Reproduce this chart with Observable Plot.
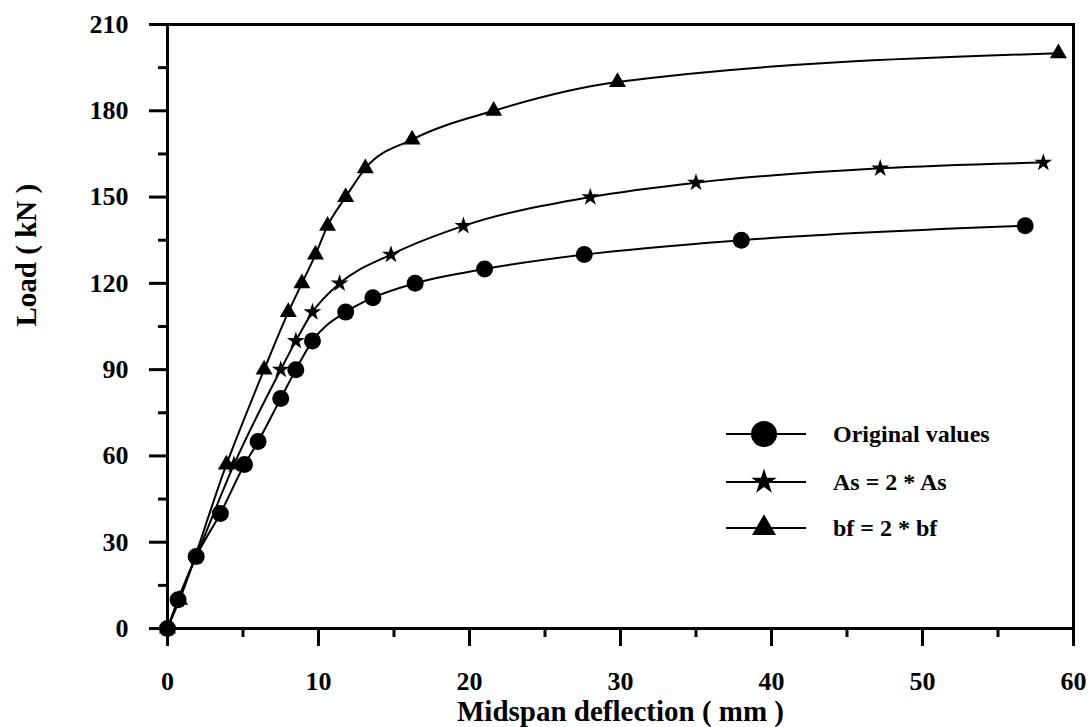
<!DOCTYPE html>
<html>
<head>
<meta charset="utf-8">
<script src="https://cdn.jsdelivr.net/npm/d3@7"></script>
<script src="https://cdn.jsdelivr.net/npm/@observablehq/plot@0.6"></script>
<style>
  html, body { margin: 0; padding: 0; background: #fff; }
  #wrap { position: relative; width: 1091px; height: 727px; }
  #legend { position: absolute; left: 0; top: 0; pointer-events: none; }
</style>
</head>
<body>
<div id="wrap"></div>
<script>
// ---- data ----
const seriesNames = ["Original values", "As = 2 * As", "bf = 2 * bf"];
const seriesSymbols = ["circle", "star", "triangle"];

const origDefl = [0, 0.7, 1.9, 3.5, 5.1, 6.0, 7.5, 8.5, 9.6, 11.8, 13.6, 16.4, 21.0, 27.6, 38.0, 56.8];
const origLoad = [0, 10, 25, 40, 57, 65, 80, 90, 100, 110, 115, 120, 125, 130, 135, 140];

const asDefl = [0, 0.7, 1.9, 4.4, 7.5, 8.5, 9.6, 11.4, 14.8, 19.6, 28.0, 35.0, 47.2, 58.0];
const asLoad = [0, 10, 25, 57, 90, 100, 110, 120, 130, 140, 150, 155, 160, 162];

const bfDefl = [0, 0.8, 3.9, 6.4, 8.0, 8.9, 9.8, 10.6, 11.8, 13.1, 16.2, 21.6, 29.8, 59.0];
const bfLoad = [0, 10, 57, 90, 110, 120, 130, 140, 150, 160, 170, 180, 190, 200];

const xMajor = [0, 10, 20, 30, 40, 50, 60];
const xMinor = [5, 15, 25, 35, 45, 55];
const yMajor = [0, 30, 60, 90, 120, 150, 180, 210];
const yMinor = [15, 45, 75, 105, 135, 165, 195];

const xLabel = "Midspan deflection ( mm )";
const yLabel = "Load ( kN )";

// ---- tables built from the arrays ----
const toRows = (xs, ys) => xs.map((x, i) => ({x, y: ys[i]}));
const orig = toRows(origDefl, origLoad);
const as2 = toRows(asDefl, asLoad);
const bf2 = toRows(bfDefl, bfLoad);

const font = "'Liberation Serif', 'Times New Roman', serif";

const chart = Plot.plot({
  width: 1091,
  height: 727,
  marginLeft: 167,
  marginRight: 18,
  marginTop: 24,
  marginBottom: 99,
  style: {fontFamily: font, fontWeight: "bold", fontSize: "26px", background: "#fff", color: "#000", overflow: "visible"},
  x: {domain: [0, 60]},
  y: {domain: [0, 210]},
  marks: [
    Plot.axisX({ticks: xMajor, tickSize: 18, tickPadding: 25, strokeWidth: 3, tickFormat: d => String(d), label: null, fontSize: 26}),
    Plot.axisX({ticks: xMinor, tickSize: 9, strokeWidth: 3, tickFormat: () => "", label: null}),
    Plot.axisY({ticks: yMajor, tickSize: 18, tickPadding: 21, strokeWidth: 3, tickFormat: d => String(d), label: null, fontSize: 26}),
    Plot.axisY({ticks: yMinor, tickSize: 9, strokeWidth: 3, tickFormat: () => "", label: null}),
    Plot.frame({stroke: "#000", strokeWidth: 3}),
    Plot.text([xLabel], {frameAnchor: "bottom", dy: 92, lineAnchor: "bottom", fontSize: 29, fontWeight: "bold", fill: "#000"}),
    Plot.text([yLabel], {frameAnchor: "left", dx: -141, rotate: -90, lineAnchor: "middle", fontSize: 29, fontWeight: "bold", fill: "#000"}),
    Plot.line(bf2, {x: "x", y: "y", curve: "monotone-x", stroke: "#000", strokeWidth: 2}),
    Plot.line(as2, {x: "x", y: "y", curve: "monotone-x", stroke: "#000", strokeWidth: 2}),
    Plot.line(orig, {x: "x", y: "y", curve: "monotone-x", stroke: "#000", strokeWidth: 2}),
    Plot.dot(bf2, {x: "x", y: "y", symbol: "triangle", r: 6.3, fill: "#000", stroke: "none"}),
    Plot.dot(as2, {x: "x", y: "y", symbol: "star", r: 5.6, fill: "#000", stroke: "none"}),
    Plot.dot(orig, {x: "x", y: "y", symbol: "circle", r: 8.5, fill: "#000", stroke: "none"})
  ]
});

const wrap = document.getElementById("wrap");
wrap.appendChild(chart);

// ---- legend overlay (inside the plot area) ----
const lg = d3.select(wrap).append("svg")
  .attr("id", "legend")
  .attr("width", 1091).attr("height", 727);

const legendX0 = 726, legendX1 = 806, legendMark = 764, legendText = 833;
const legendRows = [434, 482, 528];
const legendR = [13, 8, 8.9];
const symMap = {circle: d3.symbolCircle, star: d3.symbolStar, triangle: d3.symbolTriangle};

seriesNames.forEach((name, i) => {
  const g = lg.append("g").attr("transform", `translate(0,${legendRows[i]})`);
  g.append("line").attr("x1", legendX0).attr("x2", legendX1).attr("y1", 0).attr("y2", 0)
    .attr("stroke", "#000").attr("stroke-width", 2);
  g.append("path")
    .attr("transform", `translate(${legendMark},0)`)
    .attr("d", d3.symbol(symMap[seriesSymbols[i]], Math.PI * legendR[i] * legendR[i])())
    .attr("fill", "#000");
  g.append("text").attr("x", legendText).attr("y", 0).attr("dy", "0.32em")
    .attr("font-family", font).attr("font-weight", "bold").attr("font-size", 24)
    .attr("fill", "#000").text(name);
});
</script>
</body>
</html>
